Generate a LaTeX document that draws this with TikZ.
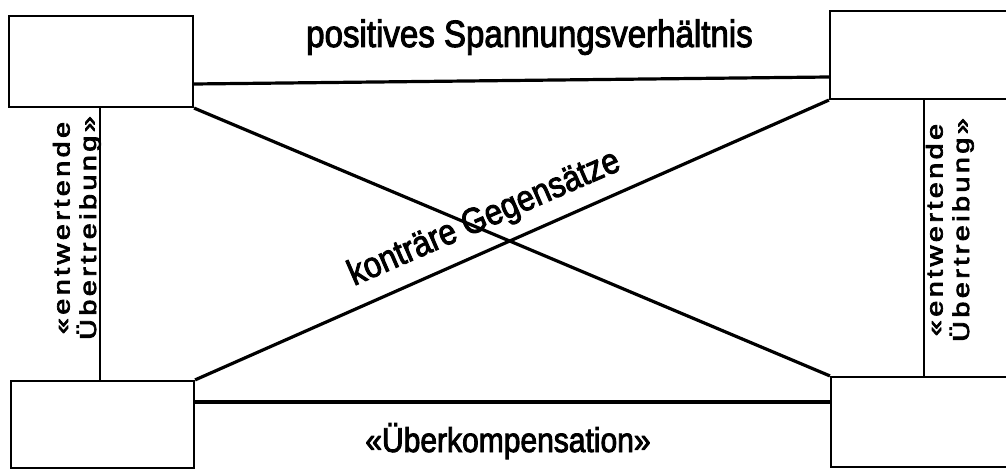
\documentclass[tikz,border=0pt]{standalone}
\usepackage{fontspec}
\setmainfont{Liberation Sans}
\newfontfamily\narrowfont[FakeStretch=0.87,FakeBold=2.5]{Liberation Sans}
\newfontfamily\vfont[LetterSpace=12,FakeBold=3]{Liberation Sans}
\newcommand\vlabel{\scalebox{1.25}[1]{\begin{tabular}{@{}c@{}}«entwertende\\Übertreibung»\end{tabular}}}
\begin{document}
\begin{tikzpicture}[x=1pt,y=-1pt,
  box/.style={draw,line width=2.2pt,rectangle,inner sep=0pt},
  conn/.style={line width=3.2pt},
  thin/.style={line width=1.8pt},
  bigtxt/.style={font=\narrowfont\fontsize{38}{44}\selectfont,inner sep=0pt},
  bottxt/.style={font=\narrowfont\fontsize{34.5}{40}\selectfont,inner sep=0pt},
  vtxt/.style={font=\vfont\fontsize{23}{24}\selectfont,inner sep=0pt,rotate=90}]
\useasboundingbox (0,0) rectangle (1006,470);
\clip (0,0) rectangle (1006,470);
\node[box,minimum width=184pt,minimum height=91pt] (TL) at (101,61.5) {};
\node[box,minimum width=183pt,minimum height=87pt] (BL) at (102.5,424.5) {};
\node[box,minimum width=185pt,minimum height=88pt] (TR) at (922.5,55) {};
\node[box,minimum width=184pt,minimum height=90pt] (BR) at (923,422) {};
\draw[conn] (TL.east |- 0,84) -- (TR.west |- 0,77);
\draw[conn] (BL.east |- 0,402) -- (BR.west |- 0,402);
\draw[conn] (TL.south east) -- (BR.north west);
\draw[conn] (BL.north east) -- (TR.south west);
\draw[thin] (TL.south -| 100,0) -- (BL.north -| 100,0);
\draw[thin] (TR.south -| 924,0) -- (BR.north -| 924,0);
\node[bigtxt,anchor=base] (top) at (529.5,47) {positives Spannungsverhältnis};
\node[bottxt,anchor=base] (bot) at (508,452) {«Überkompensation»};
\node[bigtxt,font=\narrowfont\fontsize{36}{40}\selectfont,anchor=base west,rotate=23.5] (kg) at (354,286) {konträre Gegensätze};
\node[vtxt] (lv) at (78,228) {\vlabel};
\node[vtxt] (rv) at (951,230) {\vlabel};
\end{tikzpicture}
\end{document}
